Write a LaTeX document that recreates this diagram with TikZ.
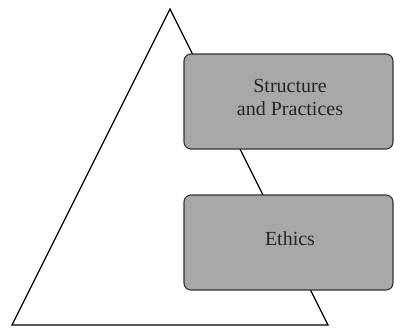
\documentclass[tikz,border=0pt]{standalone}
\usepackage{fontspec}
\setmainfont{Liberation Serif}
\definecolor{boxfill}{HTML}{A7A8AA}
\definecolor{boxline}{HTML}{333333}
\begin{document}
\begin{tikzpicture}[x=1pt,y=-1pt,
  layerbox/.style={draw=boxline, fill=boxfill, line width=1.1pt, rounded corners=7pt,
    minimum width=209pt, minimum height=95pt, inner sep=0pt},
  layertext/.style={inner sep=0pt, align=center, font=\fontsize{20}{23.3}\selectfont, text=black!85},
  tri/.style={draw=black, line width=1.3pt, line join=miter}]
\useasboundingbox (0,0) rectangle (394,327);
\coordinate (L) at (12,325);
\coordinate (T) at (170,9);
\coordinate (R) at (328,325);
\draw[tri] (L) -- (T) -- (R) -- cycle;
\node[layerbox] (sp) at (288.5,101.5) {};
\node[layerbox] (eth) at (288.5,242.5) {};
\node[layertext] (sptext) at (290,97.5) {Structure\\and Practices};
\node[layertext] (ethtext) at (290,239) {Ethics};
\end{tikzpicture}
\end{document}
